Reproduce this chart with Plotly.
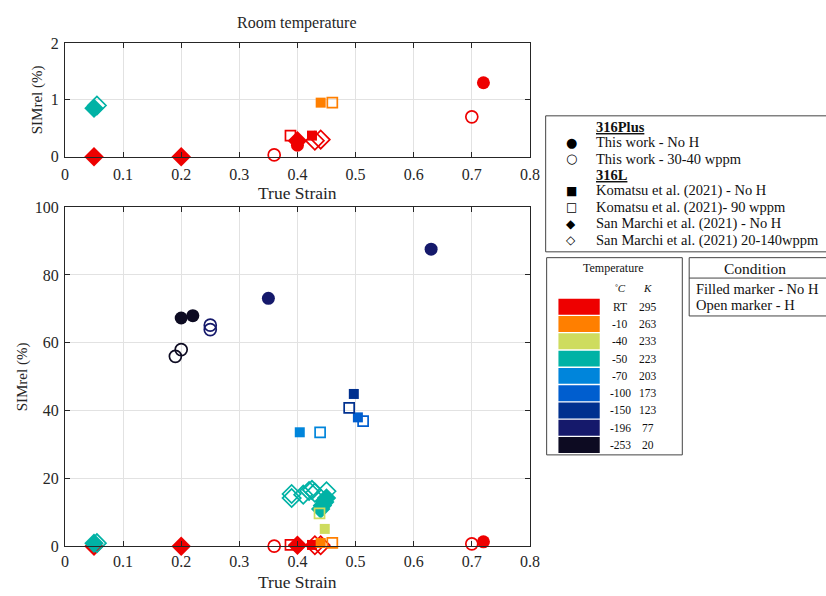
import plotly.graph_objects as go

W, H = 826, 596

# ---------------- data ----------------
temps_c = ["RT", "-10", "-40", "-50", "-70", "-100", "-150", "-196", "-253"]
temps_k = ["295", "263", "233", "223", "203", "173", "123", "77", "20"]
temp_colors = ["#EE0000", "#FF7F00", "#CEDC5E", "#00B2A5", "#0085DB",
               "#005ECF", "#00308F", "#15196B", "#0D0B22"]
cmap = dict(zip(temps_c, temp_colors))

# This work (316Plus)
tw_noH_x = [0.40, 0.72, 0.20, 0.22, 0.35, 0.63]
tw_noH_y = [0.2, 1.3, 67.3, 68.0, 73.1, 87.6]
tw_noH_t = ["RT", "RT", "-253", "-253", "-196", "-196"]

tw_H_x = [0.36, 0.70, 0.19, 0.20, 0.25, 0.25]
tw_H_y = [0.03, 0.7, 56.0, 58.0, 63.9, 65.2]
tw_H_t = ["RT", "RT", "-253", "-253", "-196", "-196"]

# Komatsu et al. (2021) 316L
kom_noH_x = [0.425, 0.44, 0.447, 0.404, 0.504, 0.497]
kom_noH_y = [0.37, 0.95, 5.1, 33.6, 38.0, 44.9]
kom_noH_t = ["RT", "-10", "-40", "-70", "-100", "-150"]

kom_H_x = [0.388, 0.46, 0.438, 0.439, 0.513, 0.489]
kom_H_y = [0.37, 0.95, 9.7, 33.6, 36.9, 40.8]
kom_H_t = ["RT", "-10", "-40", "-70", "-100", "-150"]

# San Marchi et al. (2021) 316L
sm_noH_x = [0.05, 0.20, 0.40, 0.05, 0.44, 0.443, 0.447, 0.45]
sm_noH_y = [0.0, 0.0, 0.28, 0.85, 11.0, 12.0, 13.0, 14.2]
sm_noH_t = ["RT", "RT", "RT", "-50", "-50", "-50", "-50", "-50"]

sm_H_x = [0.43, 0.44, 0.055, 0.39, 0.39, 0.41, 0.42, 0.425, 0.43, 0.45]
sm_H_y = [0.28, 0.30, 0.90, 14.2, 15.4, 15.2, 16.3, 16.6, 15.8, 16.2]
sm_H_t = ["RT", "RT", "-50", "-50", "-50", "-50", "-50", "-50", "-50", "-50"]

x_ticks = [0, 0.1, 0.2, 0.3, 0.4, 0.5, 0.6, 0.7, 0.8]
top_y_ticks = [0, 1, 2]
bot_y_ticks = [0, 20, 40, 60, 80, 100]

legend_rows = [
    ("<b><u>316Plus</u></b>", ""),
    ("This work - No H", "●"),
    ("This work - 30-40 wppm", "○"),
    ("<b><u>316L</u></b>", ""),
    ("Komatsu et al. (2021) - No H", "■"),
    ("Komatsu et al. (2021)- 90 wppm", "□"),
    ("San Marchi et al. (2021) - No H", "◆"),
    ("San Marchi et al. (2021) 20-140wppm", "◇"),
]
condition_rows = ["Filled marker - No H", "Open marker - H"]

# ---------------- helpers ----------------
def px(x):
    return x / W

def py(y):
    return 1 - y / H

SERIF = "Liberation Serif"

series = [
    (sm_noH_x, sm_noH_y, sm_noH_t, "diamond", 15, True),
    (sm_H_x, sm_H_y, sm_H_t, "diamond-open", 14, False),
    (kom_noH_x, kom_noH_y, kom_noH_t, "square", 10, True),
    (kom_H_x, kom_H_y, kom_H_t, "square-open", 10, False),
    (tw_noH_x, tw_noH_y, tw_noH_t, "circle", 13, True),
    (tw_H_x, tw_H_y, tw_H_t, "circle-open", 12, False),
]

fig = go.Figure()

for axis_id, ymax in (("", 100), ("2", 2)):
    for xs, ys, ts, sym, size, filled in series:
        sel = [i for i in range(len(xs)) if ys[i] <= ymax]
        if not sel:
            continue
        cols = [cmap[ts[i]] for i in sel]
        fig.add_trace(go.Scatter(
            x=[xs[i] for i in sel], y=[ys[i] for i in sel],
            mode="markers", cliponaxis=False, showlegend=False,
            xaxis="x" + axis_id, yaxis="y" + axis_id,
            marker=dict(symbol=sym, size=size, color=cols,
                        line=dict(width=0 if filled else 1.7, color=cols)),
            hoverinfo="x+y",
        ))

axis_common = dict(
    showline=True, linecolor="#262626", linewidth=1, mirror="ticks",
    ticks="inside", ticklen=5, tickcolor="#262626",
    showgrid=True, gridcolor="#E2E2E2", gridwidth=1, zeroline=False,
    tickfont=dict(family=SERIF, size=16, color="#262626"),
)

X0, X1 = 62, 535
TOP_T, TOP_B = 36, 153
BOT_T, BOT_B = 205, 554
XC = (X0 + X1) / 2

x_dom = [px(X0), px(X1)]
fig.update_layout(
    width=W, height=H, margin=dict(l=0, r=0, t=0, b=0),
    paper_bgcolor="white", plot_bgcolor="white",
    xaxis=dict(domain=x_dom, range=[0, 0.8], tickvals=x_ticks, ticklabelstandoff=1,
               ticktext=[f"{v:g}" for v in x_ticks], anchor="y", **axis_common),
    yaxis=dict(domain=[py(BOT_B), py(BOT_T)], range=[0, 100], tickvals=bot_y_ticks,
               ticklabelstandoff=2, anchor="x", **axis_common),
    xaxis2=dict(domain=x_dom, range=[0, 0.8], tickvals=x_ticks, ticklabelstandoff=3,
                ticktext=[f"{v:g}" for v in x_ticks], anchor="y2", **axis_common),
    yaxis2=dict(domain=[py(TOP_B), py(TOP_T)], range=[0, 2], tickvals=top_y_ticks,
                ticklabelstandoff=2, anchor="x2", **axis_common),
)

ann = []
shapes = []

def text(x, y, s, size, xanchor="center", yanchor="middle", family=SERIF, color="#262626", angle=0):
    ann.append(dict(x=px(x), y=py(y), xref="paper", yref="paper", text=s,
                    showarrow=False, xanchor=xanchor, yanchor=yanchor,
                    font=dict(family=family, size=size, color=color), textangle=angle))

# titles
text(XC, 15, "Room temperature", 16)
text(XC, 190, "True Strain", 17.5)
text(XC, 591, "True Strain", 17.5)
text(34, (TOP_T + TOP_B) / 2, "SIMrel (%)", 15, angle=-90)
text(19, (BOT_T + BOT_B) / 2, "SIMrel (%)", 15, angle=-90)

# legend box 1
shapes.append(dict(type="rect", xref="paper", yref="paper",
                   x0=px(551), x1=px(840), y0=py(251), y1=py(111),
                   line=dict(color="#444444", width=1), fillcolor="white"))
row_y = [122, 138, 155, 172, 188, 205, 222, 239]
for (label, glyph), yy in zip(legend_rows, row_y):
    text(600, yy, label, 14.5, xanchor="left", color="#111111")
    if glyph:
        text(577, yy, glyph, 13 if glyph in "●○" else 12,
             family="DejaVu Sans", color="#000000")

# temperature box
shapes.append(dict(type="rect", xref="paper", yref="paper",
                   x0=px(552), x1=px(690), y0=py(460), y1=py(257),
                   line=dict(color="#444444", width=1), fillcolor="white"))
text(620, 268, "Temperature", 12, color="#111111")
text(627, 288, "<i>˚C</i>", 11, color="#111111")
text(655, 288, "<i>K</i>", 11, color="#111111")
for i, (tc, tk, col) in enumerate(zip(temps_c, temps_k, temp_colors)):
    cy = 307.5 + i * 17.8
    shapes.append(dict(type="rect", xref="paper", yref="paper",
                       x0=px(564), x1=px(606), y0=py(cy + 8.2), y1=py(cy - 8.2),
                       line=dict(width=0), fillcolor=col))
    text(627, cy, tc, 11.5, color="#111111")
    text(655, cy, tk, 11.5, color="#111111")

# condition box
shapes.append(dict(type="rect", xref="paper", yref="paper",
                   x0=px(697), x1=px(840), y0=py(317), y1=py(257),
                   line=dict(color="#444444", width=1), fillcolor="white"))
shapes.append(dict(type="line", xref="paper", yref="paper",
                   x0=px(697), x1=px(840), y0=py(278), y1=py(278),
                   line=dict(color="#444444", width=1)))
text(764, 268, "Condition", 15.5, color="#111111")
for s, yy in zip(condition_rows, [289, 306]):
    text(702, yy, s, 14.5, xanchor="left", color="#111111")

fig.update_layout(annotations=ann, shapes=shapes)
fig.write_html("out.html")
